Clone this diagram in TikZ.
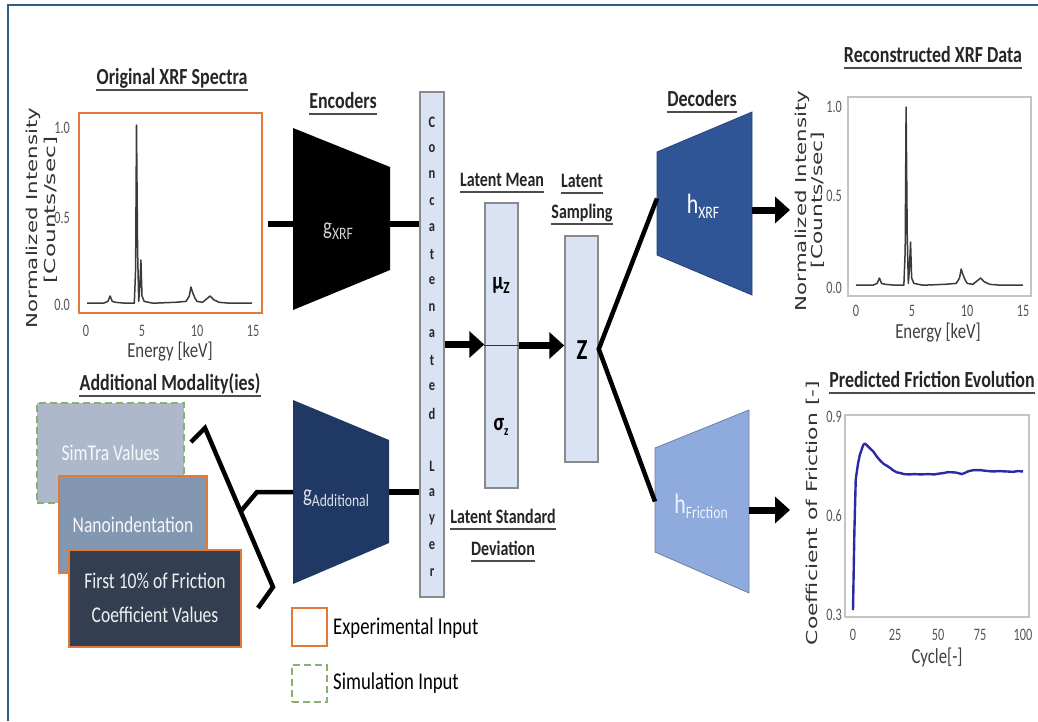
\documentclass[tikz,border=0pt]{standalone}
\usepackage{fontspec}
\setmainfont{Carlito}[FakeStretch=0.78]
\newfontfamily\tickfont{Carlito}[FakeStretch=0.7]
\newfontfamily\dvs{DejaVu Sans}
\usetikzlibrary{arrows.meta,calc}

\definecolor{frameblue}{HTML}{2F5E8C}
\definecolor{expor}{HTML}{E2793A}
\definecolor{simgr}{HTML}{8BAF70}
\definecolor{layerfill}{HTML}{DAE3F3}
\definecolor{layerdraw}{HTML}{8A8A8A}
\definecolor{hxrfc}{HTML}{2F5597}
\definecolor{hfricc}{HTML}{8FAADC}
\definecolor{gaddc}{HTML}{203864}
\definecolor{simtrac}{HTML}{ADB9CA}
\definecolor{nanoc}{HTML}{8497B0}
\definecolor{firstc}{HTML}{333F50}
\definecolor{plotgray}{HTML}{C4C4C4}
\definecolor{tickgray}{HTML}{555555}
\definecolor{specline}{HTML}{3A3A3A}
\definecolor{fricblue}{HTML}{2B2BA6}

\newcommand{\fs}[1]{\fontsize{#1}{#1}\selectfont}
\newcommand{\lsub}[1]{\raisebox{-5pt}{\fs{17.5}#1}}

\begin{document}
\begin{tikzpicture}[x=1pt,y=1pt,
  title/.style={font=\fs{23}\bfseries, text=black!85, inner xsep=0pt, inner ysep=1.5pt, text depth=4pt, anchor=base,
    append after command={(\tikzlastnode.south west) edge[draw=black!70, line width=1.6pt] (\tikzlastnode.south east)}},
  ltitle/.style={title, font=\fs{20.5}\bfseries},
  tbox/.style={inner sep=0pt, outer sep=0pt, minimum width=#1},
  tlabel/.style={anchor=base, font=\fs{24}, inner sep=0pt},
  layer/.style={draw=layerdraw, fill=layerfill, line width=1.5pt, inner sep=0pt},
  mbox/.style={rectangle, inner sep=2pt, align=center, font=\fs{22.5}, line width=2pt},
  simdash/.style={draw=simgr, dash pattern=on 7pt off 4pt},
  pbox/.style={inner sep=0pt, line width=1.8pt},
  tick/.style={font=\tickfont\fs{17.5}, text=tickgray, inner sep=1pt},
  xlab/.style={font=\fs{21.5}, text=black!75, inner sep=0pt},
  ylab/.style={font=\dvs\fs{15}, text=black!80, inner sep=0pt, rotate=90},
  conn/.style={line width=6pt},
  conn2/.style={line width=4.5pt},
  arr/.style={line width=7pt, -{Triangle[length=15pt,width=26pt]}},
  cletter/.style={font=\fs{16}\bfseries, text=black!85, inner sep=0pt}
]
\useasboundingbox (0,0) rectangle (1038,-721);
\fill[white] (0,0) rectangle (1038,-721);
\draw[frameblue, line width=2pt] (8,-721) -- (8,-5) -- (1038,-5);

% ---------- Original XRF spectra ----------
\node[title] (tOrig) at (172,-84) {Original XRF Spectra};
\node[pbox, draw=expor, minimum width=183pt, minimum height=200pt] (origplot) at (170.5,-213) {};
\begin{scope}[shift={(87,-305)}, x=11pt, y=180pt]
\draw[specline, line width=1.5pt, line join=round] plot coordinates {
(0,0.01) (1.5,0.01) (1.9,0.02) (2.1,0.05) (2.3,0.02) (2.6,0.015) (3.5,0.01) (4.3,0.01) (4.42,0.2) (4.5,1.0) (4.6,0.3) (4.7,0.02) (4.8,0.1) (4.9,0.25) (5.0,0.05) (5.2,0.02) (6,0.01) (8,0.015) (9.0,0.02) (9.3,0.05) (9.45,0.1) (9.6,0.07) (9.8,0.04) (10.0,0.02) (10.5,0.015) (11.0,0.04) (11.2,0.05) (11.5,0.03) (12,0.015) (13,0.01) (15,0.01)};
\end{scope}
\foreach \v/\y in {1.0/128,0.5/218,0.0/305} \node[tick, anchor=east] (oy\y) at (71,-\y) {\v};
\foreach \v/\x in {0/86,5/142,10/197,15/253} \node[tick] (ox\x) at (\x,-331) {\v};
\node[xlab] (oxl) at (170,-352) {Energy [keV]};
\node[ylab] (oyl1) at (33,-218) {\scalebox{1.42}[1]{Normalized Intensity}};
\node[ylab] (oyl2) at (51,-210) {\scalebox{1.55}[1]{[Counts/sec]}};

% ---------- Reconstructed XRF data ----------
\node[title] (tRec) at (933,-62) {Reconstructed XRF Data};
\node[pbox, draw=plotgray, minimum width=183pt, minimum height=199pt] (recplot) at (939.5,-196.5) {};
\begin{scope}[shift={(856,-287)}, x=11.13pt, y=180pt]
\draw[specline, line width=1.5pt, line join=round] plot coordinates {
(0,0.01) (1.5,0.01) (1.9,0.02) (2.1,0.05) (2.3,0.02) (2.6,0.015) (3.5,0.01) (4.3,0.01) (4.42,0.2) (4.5,1.0) (4.6,0.3) (4.7,0.02) (4.8,0.1) (4.9,0.25) (5.0,0.05) (5.2,0.02) (6,0.01) (8,0.015) (9.0,0.02) (9.3,0.05) (9.45,0.1) (9.6,0.07) (9.8,0.04) (10.0,0.02) (10.5,0.015) (11.0,0.04) (11.2,0.05) (11.5,0.03) (12,0.015) (13,0.01) (15,0.01)};
\end{scope}
\foreach \v/\y in {1.0/107,0.5/196,0.0/288} \node[tick, anchor=east] (ry\y) at (843,-\y) {\v};
\foreach \v/\x in {0/856,5/912,10/967,15/1023} \node[tick] (rx\x) at (\x,-311) {\v};
\node[xlab] (rxl) at (938,-333) {Energy [keV]};
\node[ylab] (ryl1) at (802,-201) {\scalebox{1.42}[1]{Normalized Intensity}};
\node[ylab] (ryl2) at (818,-200) {\scalebox{1.45}[1]{[Counts/sec]}};

% ---------- Predicted friction evolution ----------
\node[title] (tFric) at (932,-387) {Predicted Friction Evolution};
\node[pbox, draw=plotgray, minimum width=184pt, minimum height=202pt] (fricplot) at (937,-516) {};
\begin{scope}[shift={(853,-714)}, x=1.7pt, y=330pt]
\draw[fricblue, line width=2.4pt, line join=round] plot coordinates {
(0,0.315) (0.8,0.55) (1.6,0.71) (2.4,0.74) (3,0.76) (4,0.785) (5,0.80) (6,0.815) (7,0.82) (8,0.815) (9,0.81) (10,0.805) (11,0.80) (12,0.795) (14,0.78) (16,0.768) (18,0.758) (20,0.752) (22,0.745) (24,0.737) (26,0.732) (28,0.73) (30,0.727) (33,0.726) (36,0.727) (40,0.726) (44,0.727) (48,0.726) (50,0.728) (53,0.73) (56,0.733) (60,0.732) (62,0.73) (64,0.727) (66,0.731) (68,0.736) (71,0.739) (75,0.739) (78,0.737) (82,0.735) (86,0.736) (90,0.735) (94,0.734) (97,0.736) (100,0.735)};
\end{scope}
\foreach \v/\y in {0.9/417,0.6/516,0.3/615} \node[tick, anchor=east] (fy\y) at (843,-\y) {\v};
\foreach \v/\x in {0/853,25/895,50/938,75/980,100/1023} \node[tick] (fx\x) at (\x,-635) {\v};
\node[xlab] (fxl) at (937,-657) {Cycle[-]};
\node[ylab] (fyl) at (813,-513) {\scalebox{1.46}[1]{Coefficient of Friction [-]}};

% ---------- Encoders ----------
\node[title] (tEnc) at (343,-108) {Encoders};
\node[tbox=97pt, minimum height=182pt] (gxrf) at (341.5,-219) {};
\fill[black] (gxrf.north west) -- ([yshift=-39pt]gxrf.north east) -- ([yshift=40pt]gxrf.south east) -- (gxrf.south west) -- cycle;
\node[tlabel, text=white!82!black] (gxrfl) at (338,-234) {g\lsub{XRF}};

\node[tbox=96pt, minimum height=184pt] (gadd) at (341,-492) {};
\fill[gaddc] (gadd.north west) -- ([yshift=-40pt]gadd.north east) -- ([yshift=41pt]gadd.south east) -- (gadd.south west) -- cycle;
\node[tlabel, text=white!85!gaddc] (gaddl) at (336,-501) {g\lsub{Additional}};

% ---------- Concatenated layer ----------
\node[layer, minimum width=24pt, minimum height=505pt] (concat) at (432,-344.5) {};
\foreach \i/\l in {0/C,1/o,2/n,3/c,4/a,5/t,6/e,7/n,8/a,9/t,10/e,11/d,13/L,14/a,15/y,16/e,17/r}
  \node[cletter] (cl\i) at (432,{-122-26.5*\i}) {\l};

% ---------- Latent ----------
\node[ltitle] (tMean) at (502,-186) {Latent Mean};
\node[layer, minimum width=33pt, minimum height=285pt] (mean) at (501.5,-345.5) {};
\draw[black!80, line width=1.2pt] (mean.west) -- (mean.east);
\node[font=\fs{25}\bfseries, inner sep=0pt] (mu) at (501,-285) {μ\raisebox{-4pt}{\fs{17}Z}};
\node[font=\fs{25}\bfseries, inner sep=0pt] (sigma) at (501,-427) {σ\raisebox{-5pt}{\fs{14}z}};
\node[ltitle] (tStd1) at (503,-523) {Latent Standard};
\node[ltitle] (tStd2) at (503,-555) {Deviation};

\node[ltitle] (tLat1) at (582,-187) {Latent};
\node[ltitle] (tLat2) at (582,-218) {Sampling};
\node[layer, minimum width=33pt, minimum height=226pt] (zbox) at (581.5,-349) {};
\node[font=\fs{29}\bfseries, inner sep=0pt] (zl) at (582,-350) {Z};

% ---------- Decoders ----------
\node[title] (tDec) at (702,-106) {Decoders};
\node[tbox=95pt, minimum height=183pt] (hxrf) at (704.5,-203.5) {};
\filldraw[fill=hxrfc, draw=hxrfc!80!black, line width=0.8pt] ([yshift=-40pt]hxrf.north west) -- (hxrf.north east) -- (hxrf.south east) -- ([yshift=40pt]hxrf.south west) -- cycle;
\node[tlabel, text=white, font=\fs{28}] (hxrfl) at (703,-213) {h\lsub{XRF}};

\node[tbox=94pt, minimum height=183pt] (hfric) at (702,-501.5) {};
\filldraw[fill=hfricc, draw=hfricc!75!black, line width=0.8pt] ([yshift=-38pt]hfric.north west) -- (hfric.north east) -- (hfric.south east) -- ([yshift=41pt]hfric.south west) -- cycle;
\node[tlabel, text=white!85!hfricc, font=\fs{28}] (hfricl) at (701,-513) {h\lsub{Friction}};

% ---------- Additional modalities ----------
\node[title] (tAdd) at (170,-390) {Additional Modality(ies)};
\node[mbox, simdash, fill=simtrac, text=white!90!simtrac, minimum width=147pt, minimum height=100pt] (simtra) at (110.5,-453) {SimTra Values};
\node[mbox, draw=expor, fill=nanoc, text=white!92!nanoc, minimum width=148pt, minimum height=97pt] (nano) at (133,-524.5) {Nanoindentation};
\node[mbox, draw=expor, fill=firstc, text=white!92!firstc, minimum width=172pt, minimum height=97pt, font=\fontsize{22.5}{34}\selectfont] (first) at (155,-598) {First 10\% of Friction\\Coefficient Values};

% bracket joining the modalities
\draw[conn2, line join=miter] (191,-442) -- (205,-428) -- (273,-587) -- (258,-608);
\coordinate (bj) at (241,-511);
\coordinate (bk) at (257,-492);
\draw[conn2, line join=miter] (bj) -- (bk) -- (bk -| gadd.west);

% ---------- Legend ----------
\node[draw=expor, line width=2pt, minimum width=35pt, minimum height=38pt, inner sep=0pt] (legexp) at (309.5,-627) {};
\node[simdash, line width=2pt, minimum width=35pt, minimum height=37pt, inner sep=0pt] (legsim) at (309.5,-683.5) {};
\node[anchor=west, font=\fs{24}, inner xsep=0pt] (legexpt) at (333,-628) {Experimental Input};
\node[anchor=west, font=\fs{24}, inner xsep=0pt] (legsimt) at (333,-683) {Simulation Input};

% ---------- Connectors ----------
\draw[conn] ([xshift=5pt,yshift=-11pt]origplot.east) -- ([yshift=-5pt]gxrf.west);
\coordinate (gxo) at ([yshift=-5pt]gxrf.east);
\draw[conn] (gxo) -- (gxo -| concat.west);
\draw[conn] (gadd.east) -- (gadd.east -| concat.west);
\draw[arr] (concat.east) -- (concat.east -| mean.west);
\draw[arr] (mean.east) -- (mean.east -| zbox.west);
\draw[conn2, line join=miter] ([yshift=5pt]hxrf.west) -- (zbox.east) -- (hfric.west);
\coordinate (hxo) at (790,-210);
\draw[arr] (hxrf.east |- hxo) -- (hxo);
\coordinate (hfo) at (790,-510);
\draw[arr] (hfric.east |- hfo) -- (hfo);
\end{tikzpicture}
\end{document}
